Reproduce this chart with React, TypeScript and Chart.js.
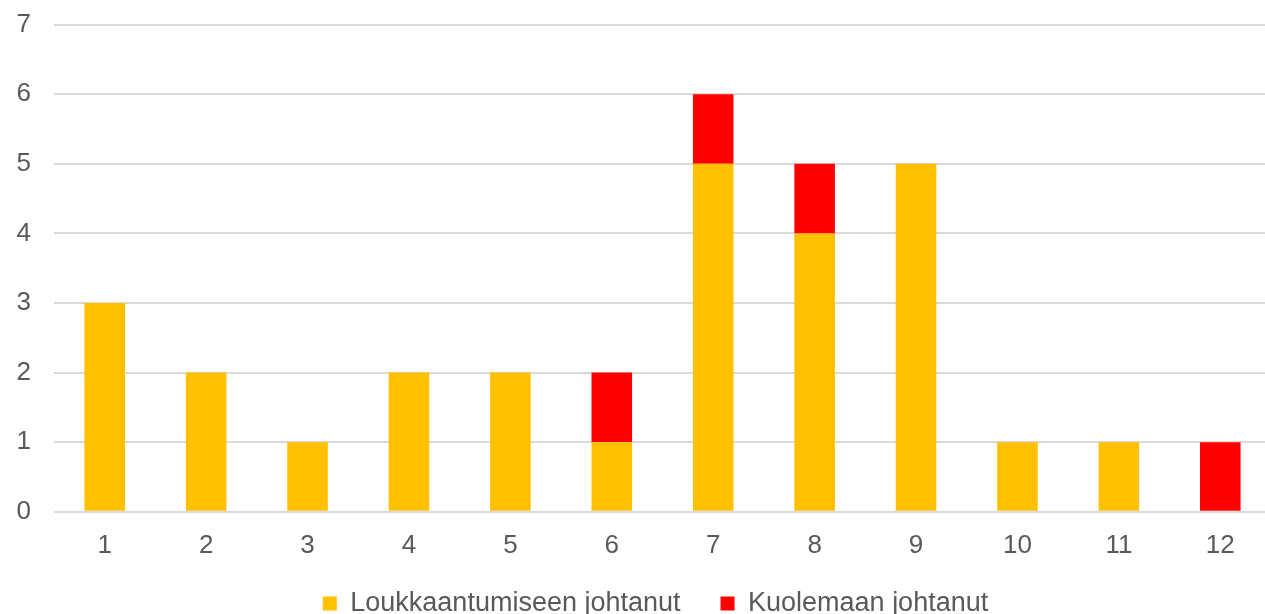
import React, { useEffect, useRef } from "react";
import { Chart, registerables } from "chart.js";

Chart.register(...registerables);

const categories = ["1", "2", "3", "4", "5", "6", "7", "8", "9", "10", "11", "12"];
const injuryValues = [3, 2, 1, 2, 2, 1, 5, 4, 5, 1, 1, 0];
const deathValues = [0, 0, 0, 0, 0, 1, 1, 1, 0, 0, 0, 1];
const seriesNames = ["Loukkaantumiseen johtanut", "Kuolemaan johtanut"];

const FONT = "'Liberation Sans', Arial, sans-serif";

const legendShift = {
  id: "legendShift",
  afterLayout(chart: any) {
    const lg = chart.legend;
    if (!lg) return;
    lg.left += 20;
    lg.right += 20;
    lg.top -= 29;
    lg.bottom -= 29;
  },
};

export default function App() {
  const ref = useRef<HTMLCanvasElement | null>(null);
  useEffect(() => {
    document.body.style.margin = "0";
    document.body.style.overflow = "hidden";
    const canvas = ref.current;
    if (!canvas) return;
    const chart = new Chart(canvas, {
      type: "bar",
      data: {
        labels: categories,
        datasets: [
          { label: seriesNames[0], data: injuryValues, backgroundColor: "#FFC000", barPercentage: 0.4, categoryPercentage: 1 },
          { label: seriesNames[1], data: deathValues, backgroundColor: "#FF0000", barPercentage: 0.4, categoryPercentage: 1 },
        ],
      },
      options: {
        animation: false,
        responsive: false,
        devicePixelRatio: 1,
        layout: { padding: { top: 10, right: 0, left: 0, bottom: 0 } },
        plugins: {
          tooltip: { enabled: false },
          legend: {
            position: "bottom",
            labels: {
              boxWidth: 14,
              boxHeight: 14,
              padding: 40,
              color: "#595959",
              font: { family: FONT, size: 27 },
            },
          },
        },
        scales: {
          x: {
            stacked: true,
            grid: { display: false, drawTicks: false },
            border: { display: false },
            ticks: { color: "#595959", padding: 18, font: { family: FONT, size: 26 } },
          },
          y: {
            stacked: true,
            min: 0,
            max: 7,
            afterFit: (s: any) => { s.width = 54; },
            grid: { color: "#d9d9d9", lineWidth: 2, drawTicks: false },
            border: { display: false },
            ticks: { stepSize: 1, color: "#595959", padding: 23, font: { family: FONT, size: 26 } },
          },
        },
      },
      plugins: [legendShift],
    });
    return () => chart.destroy();
  }, []);
  return (
    <div style={{ position: "fixed", left: 0, top: 0, width: 1265, height: 614, overflow: "hidden" }}>
      <canvas ref={ref} width={1271} height={670} style={{ display: "block", position: "absolute", left: 0, top: -14 }} />
    </div>
  );
}
